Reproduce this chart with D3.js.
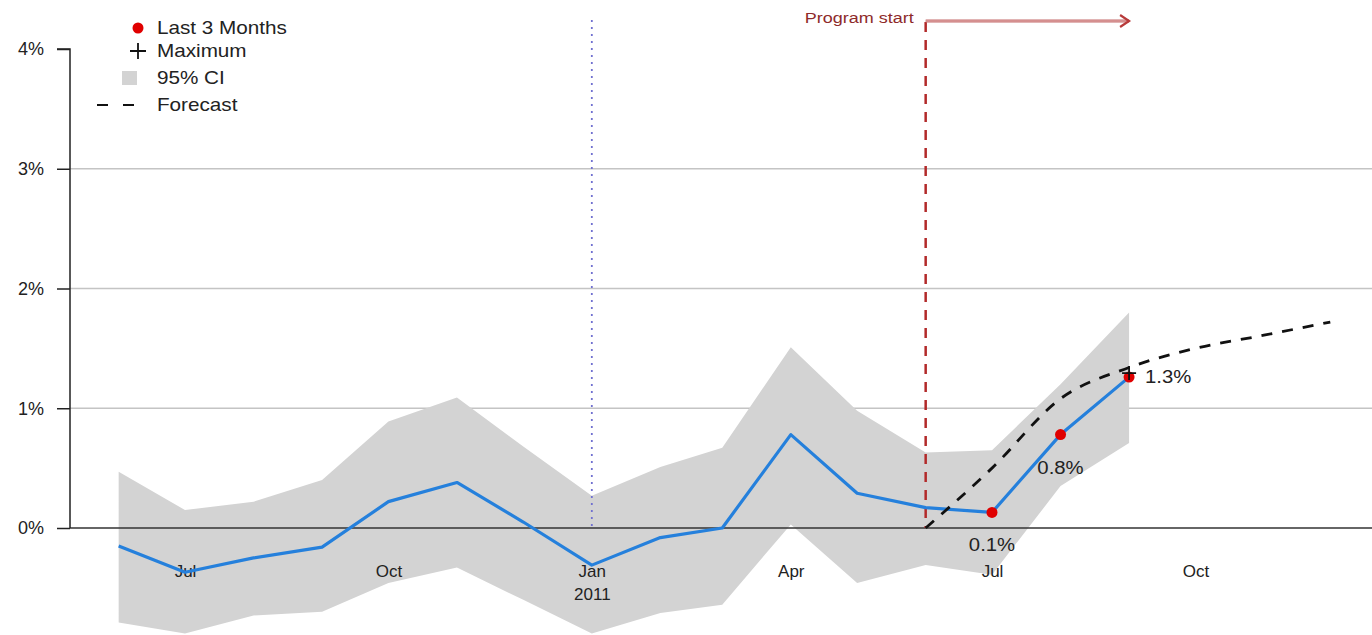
<!DOCTYPE html>
<html>
<head>
<meta charset="utf-8">
<script src="https://cdn.jsdelivr.net/npm/d3@7"></script>
<style>
  html, body { margin: 0; padding: 0; background: #fff; }
  svg { display: block; font-family: "Liberation Sans", Arial, sans-serif; }
</style>
</head>
<body>
<svg id="chart" width="1372" height="635"></svg>
<script>
// ---- data ----
const months = ["2010-06","2010-07","2010-08","2010-09","2010-10","2010-11","2010-12",
                "2011-01","2011-02","2011-03","2011-04","2011-05","2011-06","2011-07","2011-08","2011-09"];
const rate  = [-0.15,-0.37,-0.25,-0.16, 0.22, 0.38, 0.05,-0.31,-0.08, 0.00, 0.78, 0.29, 0.17, 0.13, 0.78, 1.26];
const upper = [ 0.47, 0.15, 0.22, 0.40, 0.89, 1.09, 0.68, 0.27, 0.51, 0.67, 1.51, 0.98, 0.63, 0.65, 1.20, 1.80];
const lower = [-0.79,-0.88,-0.73,-0.70,-0.46,-0.33,-0.60,-0.88,-0.71,-0.64, 0.03,-0.46,-0.31,-0.39, 0.35, 0.71];
const forecastMonths = ["2011-06","2011-07","2011-08","2011-09","2011-10","2011-11","2011-12"];
const forecast = [0.00, 0.50, 1.08, 1.34, 1.50, 1.61, 1.72];
const lastMonths = ["2011-07","2011-08","2011-09"];
const maxMonth = "2011-09";
const programStart = "2011-06";
const yearMark = "2011-01";
const yTicks = [0, 1, 2, 3, 4];
const monthNames = ["Jan","Feb","Mar","Apr","May","Jun","Jul","Aug","Sep","Oct","Nov","Dec"];
const legendItems = ["Last 3 Months", "Maximum", "95% CI", "Forecast"];

// ---- setup ----
const W = 1372, H = 635;
const parse = d3.timeParse("%Y-%m");
const svg = d3.select("#chart");

const x = d3.scaleTime()
  .domain([parse("2010-07"), parse("2011-07")])
  .range([185, 992]);
const y = d3.scaleLinear().domain([0, 4]).range([528, 49]);
const axisX = 70;

const rows = months.map((m, i) => ({ d: parse(m), m, v: rate[i], hi: upper[i], lo: lower[i] }));
const frows = forecastMonths.map((m, i) => ({ d: parse(m), v: forecast[i] }));

// horizontally stretched text helper
function stretched(sel, sx) {
  sel.each(function() {
    const t = d3.select(this);
    const tx = +t.attr("x") || 0, ty = +t.attr("y") || 0;
    t.attr("transform", `translate(${tx},${ty}) scale(${sx},1) translate(${-tx},${-ty})`);
  });
}

// gridlines
svg.append("g").selectAll("line")
  .data(yTicks.filter(t => t > 0 && t < 4))
  .join("line")
  .attr("x1", axisX).attr("x2", W)
  .attr("y1", d => y(d)).attr("y2", d => y(d))
  .attr("stroke", "#c4c4c4").attr("stroke-width", 1.3);

// CI band
svg.append("path")
  .datum(rows)
  .attr("fill", "#d3d3d3")
  .attr("d", d3.area().x(d => x(d.d)).y0(d => y(d.lo)).y1(d => y(d.hi)));

// zero line
svg.append("line")
  .attr("x1", axisX).attr("x2", W)
  .attr("y1", y(0)).attr("y2", y(0))
  .attr("stroke", "#333").attr("stroke-width", 1.5);

// y axis
const yAxis = d3.axisLeft(y).tickValues(yTicks).tickFormat(d => d + "%").tickSize(13).tickPadding(13);
const gy = svg.append("g").attr("transform", `translate(${axisX},0)`).call(yAxis);
gy.select(".domain").attr("stroke", "#222").attr("stroke-width", 1.5).attr("d", `M-13,${y(4)}H0V${y(0)}`);
gy.selectAll(".tick line").attr("stroke", "#222").attr("stroke-width", 1.5);
gy.selectAll(".tick text").attr("font-size", 18).attr("fill", "#222")
  .attr("font-family", "'Liberation Sans', Arial, sans-serif");

// x axis labels (no ticks)
const xTicks = d3.timeMonths(parse("2010-07"), parse("2011-11"), 3);
const xAxis = d3.axisBottom(x).tickValues(xTicks).tickSize(0).tickPadding(0)
  .tickFormat(d => monthNames[d.getMonth()]);
const gx = svg.append("g").attr("transform", `translate(0,${y(0)})`).call(xAxis);
gx.select(".domain").remove();
gx.selectAll(".tick text").attr("font-size", 17).attr("fill", "#222").attr("dy", "1.3em")
  .attr("y", 27).attr("font-family", "'Liberation Sans', Arial, sans-serif");
gx.selectAll(".tick").filter(d => d.getMonth() === 0)
  .append("text").attr("y", 72).attr("fill", "#222").attr("font-size", 17)
  .attr("text-anchor", "middle").attr("font-family", "'Liberation Sans', Arial, sans-serif")
  .text(d => d.getFullYear());

// year mark dotted line
svg.append("line")
  .attr("x1", x(parse(yearMark))).attr("x2", x(parse(yearMark)))
  .attr("y1", 20).attr("y2", y(0) - 2)
  .attr("stroke", "#7070d0").attr("stroke-width", 1.8).attr("stroke-dasharray", "2,5");

// program start
const ps = x(parse(programStart));
svg.append("line")
  .attr("x1", ps).attr("x2", ps).attr("y1", 22).attr("y2", y(0))
  .attr("stroke", "#b22a2a").attr("stroke-width", 2.5).attr("stroke-dasharray", "10,8");
const arrowEnd = x(parse(maxMonth));
svg.append("line")
  .attr("x1", ps).attr("x2", arrowEnd).attr("y1", 21).attr("y2", 21)
  .attr("stroke", "#c46a6a").attr("stroke-width", 2.8);
svg.append("line")
  .attr("x1", ps).attr("x2", arrowEnd - 2).attr("y1", 21).attr("y2", 21)
  .attr("stroke", "#ebbdbd").attr("stroke-width", 0.9);
svg.append("path")
  .attr("d", `M${arrowEnd - 9},${15}L${arrowEnd},${21}L${arrowEnd - 9},${27}`)
  .attr("fill", "none").attr("stroke", "#b83a3a").attr("stroke-width", 2.2);
svg.append("text")
  .attr("x", ps - 12).attr("y", 23).attr("text-anchor", "end")
  .attr("font-size", 15).attr("fill", "#8e2a2a").text("Program start")
  .call(stretched, 1.2);

// main line
svg.append("path")
  .datum(rows)
  .attr("fill", "none").attr("stroke", "#2580dc").attr("stroke-width", 3.2)
  .attr("stroke-linejoin", "round")
  .attr("d", d3.line().x(d => x(d.d)).y(d => y(d.v)));

// forecast
svg.append("path")
  .datum(frows)
  .attr("fill", "none").attr("stroke", "#111").attr("stroke-width", 2.8)
  .attr("stroke-dasharray", "11,10")
  .attr("d", d3.line().curve(d3.curveMonotoneX).x(d => x(d.d)).y(d => y(d.v)));

// last 3 months
const last = rows.filter(r => lastMonths.includes(r.m));
svg.append("g").selectAll("circle").data(last).join("circle")
  .attr("cx", d => x(d.d)).attr("cy", d => y(d.v)).attr("r", 5.5).attr("fill", "#e00000");

// maximum marker
const mx = rows.find(r => r.m === maxMonth);
svg.append("path")
  .attr("d", `M${x(mx.d) - 7},${y(mx.v) - 4}h14M${x(mx.d)},${y(mx.v) - 11}v14`)
  .attr("stroke", "#111").attr("stroke-width", 1.8);

// value labels
const fmt = v => d3.format(".1f")(v) + "%";
svg.append("g").selectAll("text").data(last).join("text")
  .attr("x", (d, i) => i === 2 ? x(d.d) + 16 : x(d.d))
  .attr("y", (d, i) => i === 2 ? y(d.v) + 6 : y(d.v) + 39)
  .attr("text-anchor", (d, i) => i === 2 ? "start" : "middle")
  .attr("font-size", 18).attr("fill", "#222")
  .text(d => fmt(d.v))
  .call(stretched, 1.13);

// legend
const lg = svg.append("g");
lg.append("circle").attr("cx", 138).attr("cy", 28).attr("r", 5.5).attr("fill", "#e00000");
lg.append("path").attr("d", "M130,51h16M138,43v16").attr("stroke", "#111").attr("stroke-width", 1.8);
lg.append("rect").attr("x", 122).attr("y", 71).attr("width", 15).attr("height", 14).attr("fill", "#d3d3d3");
lg.append("line").attr("x1", 97).attr("x2", 135).attr("y1", 105).attr("y2", 105)
  .attr("stroke", "#111").attr("stroke-width", 1.8).attr("stroke-dasharray", "11,15");
lg.selectAll("text").data(legendItems).join("text")
  .attr("x", 157).attr("y", (d, i) => [34, 57, 84, 111][i])
  .attr("font-size", 18).attr("fill", "#222").text(d => d)
  .call(stretched, 1.15);
</script>
</body>
</html>
